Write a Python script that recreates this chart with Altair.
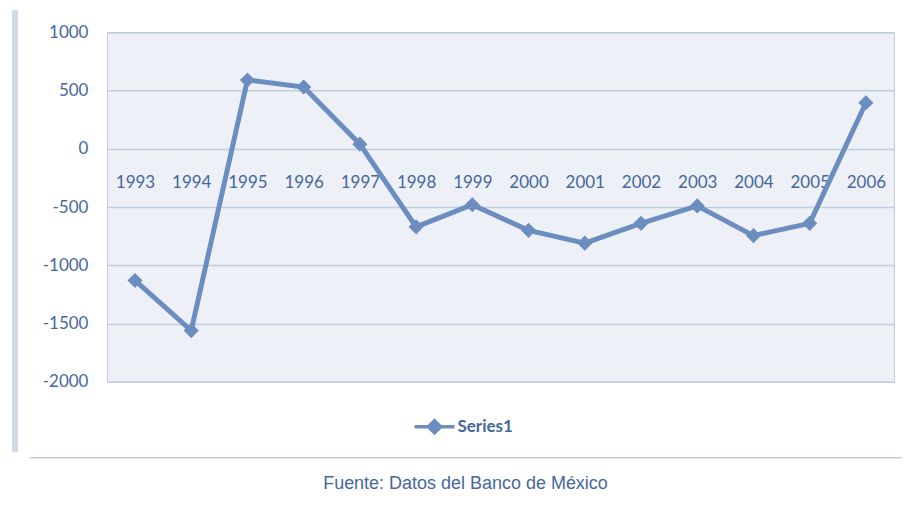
import altair as alt
import pandas as pd

years = ["1993", "1994", "1995", "1996", "1997", "1998", "1999",
         "2000", "2001", "2002", "2003", "2004", "2005", "2006"]
values = [-1130, -1560, 590, 530, 40, -670, -480,
          -700, -810, -640, -490, -745, -640, 395]
series = ["Series1"] * len(years)
y_ticks = [-2000, -1500, -1000, -500, 0, 500, 1000]
footer = ["Fuente: Datos del Banco de México"]

df = pd.DataFrame({"year": years, "value": values, "series": series})

LINE = "#6c8dc0"
TEXT = "#46679c"
GRID = "#c0cde0"
FONT = "Lato"

base = alt.Chart(df)

line = base.mark_line(
    strokeWidth=5,
    point=alt.OverlayMarkDef(shape="diamond", size=230, filled=True, color=LINE),
).encode(
    x=alt.X("year:N", sort=years,
            scale=alt.Scale(type="point", padding=0.5),
            axis=alt.Axis(title=None, orient="bottom", offset=-233.3,
                          domain=False, ticks=False, grid=False,
                          labelAngle=0, labelPadding=34, labelBaseline="middle",
                          labelFont=FONT, labelFontSize=17, labelColor=TEXT)),
    y=alt.Y("value:Q",
            scale=alt.Scale(domain=[-2000, 1000], nice=False),
            axis=alt.Axis(title=None, values=y_ticks, domain=False, ticks=False,
                          labelExpr="'' + datum.value",
                          grid=True, gridColor=GRID, gridWidth=1.5,
                          labelPadding=19, labelFont=FONT, labelFontSize=17,
                          labelColor=TEXT)),
    color=alt.Color("series:N",
                    scale=alt.Scale(range=[LINE]),
                    legend=alt.Legend(
                        title=None, orient="none", legendX=306, legendY=373,
                        symbolType="M-1,0H1M-0.3,0L0,-0.3L0.3,0L0,0.3Z",
                        symbolSize=1600, symbolStrokeWidth=3.5,
                        symbolStrokeColor=LINE, symbolFillColor=LINE,
                        labelFont=FONT, labelFontSize=17, labelColor=TEXT,
                        labelFontWeight="bold", labelOffset=1)),
)

sep = alt.Chart(pd.DataFrame({"k": [0]})).mark_rule(
    color=GRID, strokeWidth=1.5
).encode(x=alt.value(-77), x2=alt.value(800), y=alt.value(426))

edge = alt.Chart(pd.DataFrame({"k": [0]})).mark_rule(
    color="#c3cede", strokeWidth=6, opacity=0.8
).encode(x=alt.value(-92), y=alt.value(-22), y2=alt.value(420))

foot = alt.Chart(pd.DataFrame({"t": footer})).mark_text(
    font="Liberation Sans", fontSize=18, color=TEXT, align="center",
    baseline="middle"
).encode(text="t:N", x=alt.value(359), y=alt.value(452))

chart = alt.layer(line, sep, edge, foot).properties(
    width=788, height=350,
    autosize=alt.AutoSizeParams(type="none"),
    padding={"left": 99, "top": 24, "right": 8, "bottom": 122},
    background="white",
).configure_view(fill="#edf0f6", stroke=GRID, strokeWidth=1)

chart.save("out.html", embed_options={"renderer": "svg", "actions": False})
